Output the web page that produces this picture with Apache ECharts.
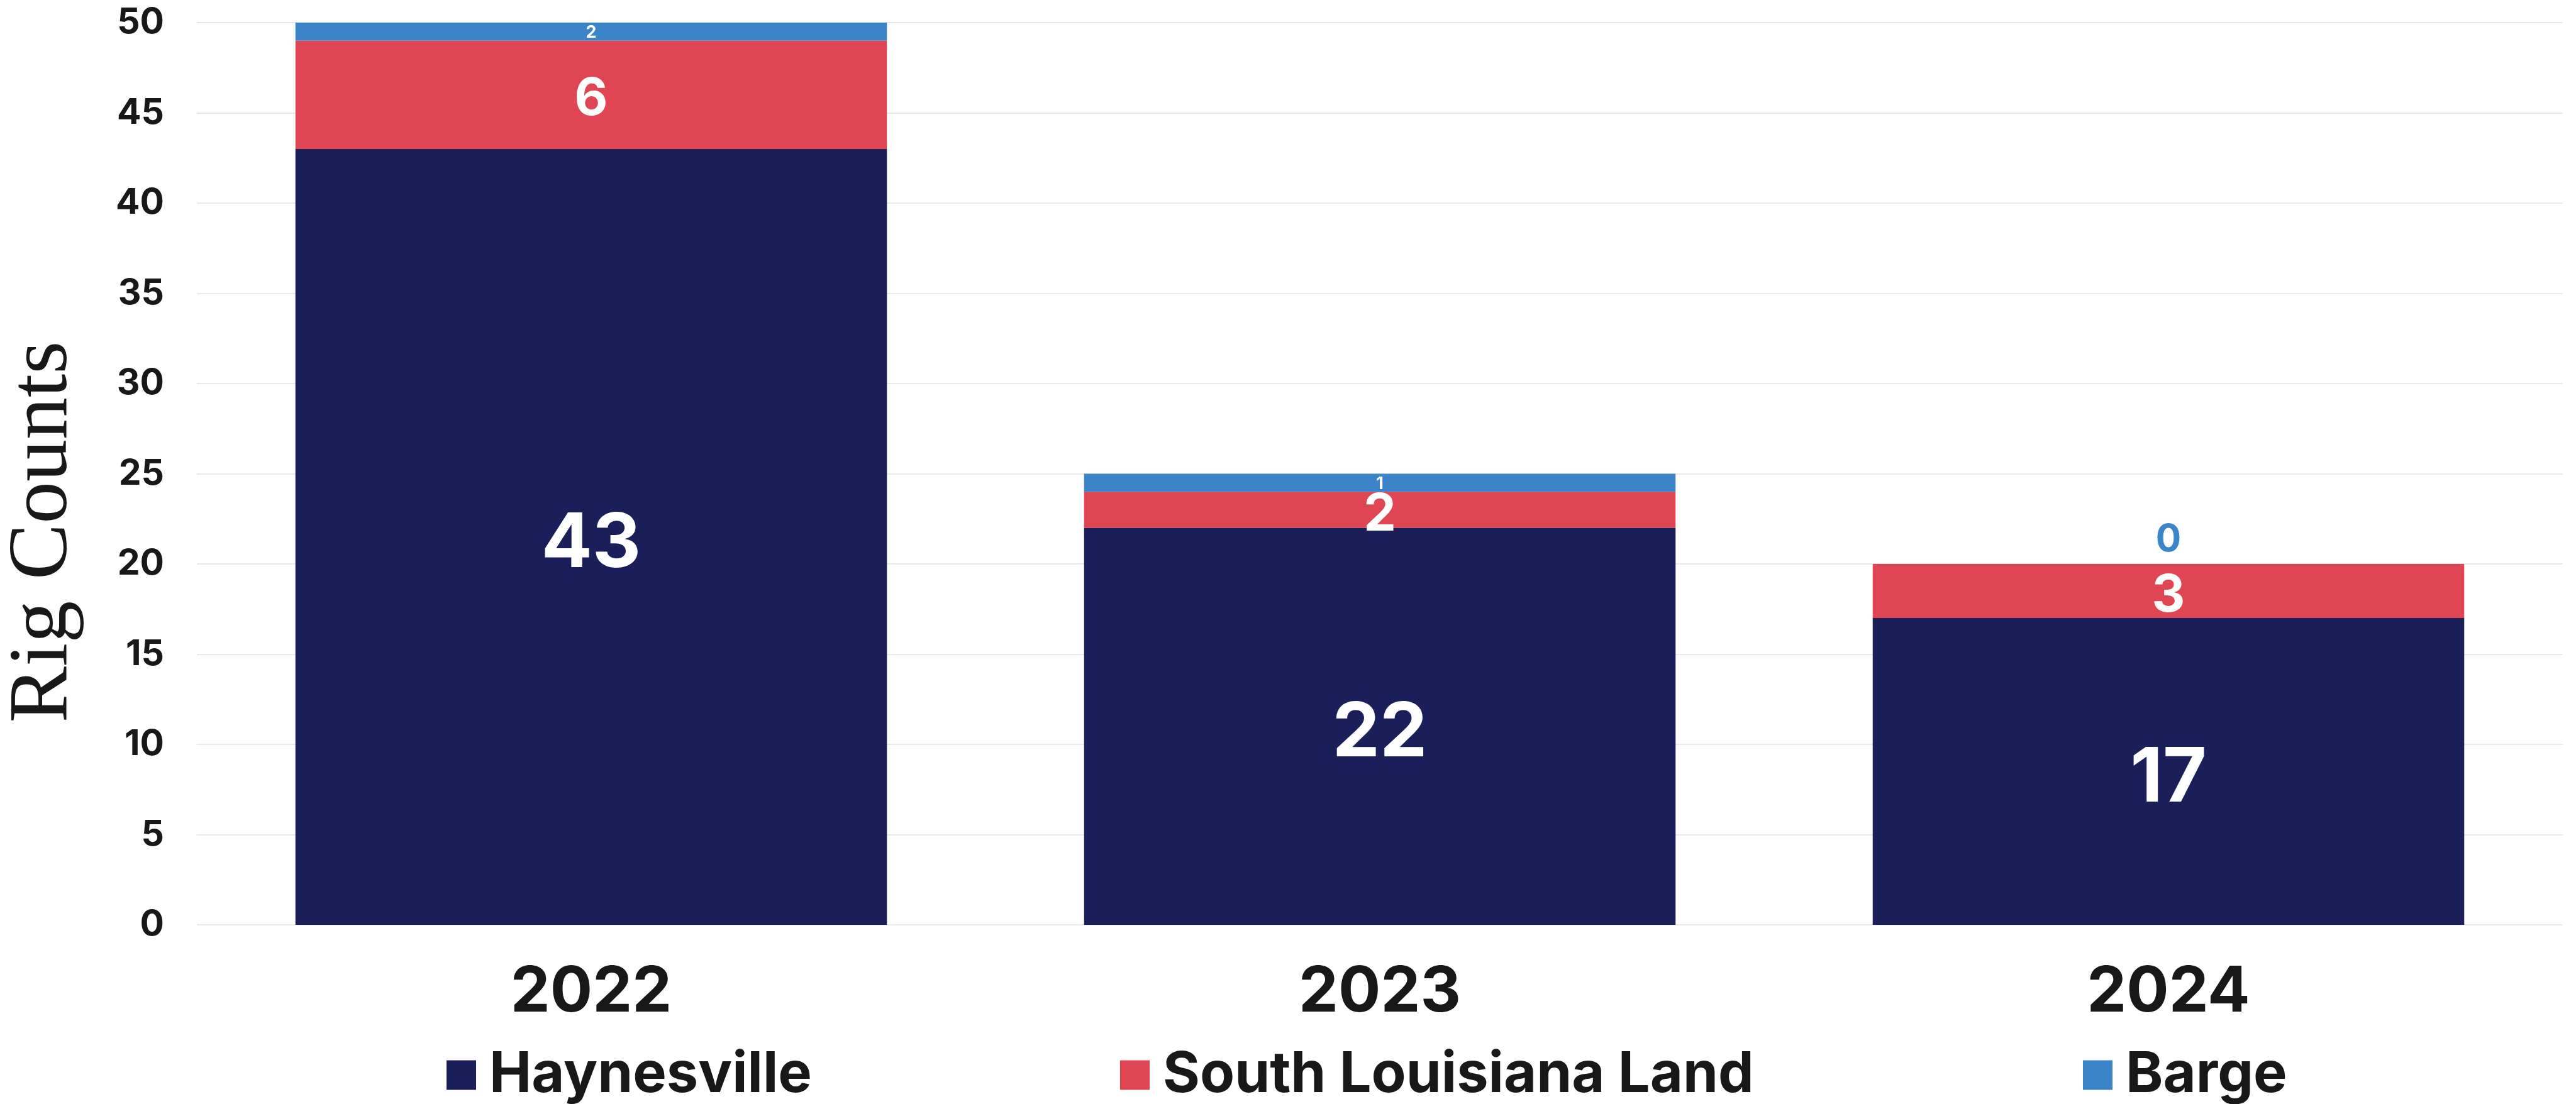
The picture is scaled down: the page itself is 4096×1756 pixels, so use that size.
<!DOCTYPE html>
<html>
<head>
<meta charset="utf-8">
<title>Rig Counts</title>
<script src="https://cdn.jsdelivr.net/npm/echarts@6/dist/echarts.min.js"></script>
<style>
  html, body { margin: 0; padding: 0; background: #ffffff; }
  #chart { width: 4096px; height: 1756px; }
</style>
</head>
<body>
<div id="chart"></div>
<script>
// Rig counts by year and area
const categories = ['2022', '2023', '2024'];
const haynesville = [43, 22, 17];
const southLouisianaLand = [6, 2, 3];
const barge = [2, 1, 0];
const seriesNames = ['Haynesville', 'South Louisiana Land', 'Barge'];
const yMin = 0, yMax = 50, yStep = 5;

const NAVY = '#1b1f59';
const RED = '#e04553';
const BLUE = '#3b84c8';
const INK = '#181818';
const SANS = 'Inter, "Open Sans", sans-serif';

const chart = echarts.init(document.getElementById('chart'), null, { renderer: 'canvas' });

function labelStyle(size, dy) {
  return {
    show: true,
    position: 'inside',
    offset: [0, dy],
    color: '#ffffff',
    fontFamily: SANS,
    fontWeight: 'bold',
    fontSize: size
  };
}

// A zero-height segment gets its label above the stack, in the series colour
function bargeData() {
  return barge.map(function (v) {
    if (v === 0) {
      return {
        value: v,
        label: { position: 'top', distance: 8, offset: [0, 0], color: BLUE, fontSize: 60 }
      };
    }
    return v;
  });
}

function legendAt(left, name) {
  return {
    data: [name],
    left: left,
    top: 1660,
    icon: 'rect',
    itemWidth: 47,
    itemHeight: 47,
    selectedMode: false,
    textStyle: {
      color: INK,
      fontFamily: SANS,
      fontWeight: 'bold',
      fontSize: 90,
      padding: [0, 0, 0, 16]
    }
  };
}

const option = {
  backgroundColor: '#ffffff',
  animation: false,
  grid: { left: 313, right: 21, top: 36, bottom: 285, containLabel: false },
  legend: [
    legendAt(705, seriesNames[0]),
    legendAt(1776, seriesNames[1]),
    legendAt(3307, seriesNames[2])
  ],
  xAxis: {
    type: 'category',
    data: categories,
    axisLine: { show: false },
    axisTick: { show: false },
    axisLabel: {
      margin: 58,
      color: INK,
      fontFamily: SANS,
      fontWeight: 'bold',
      fontSize: 100
    }
  },
  yAxis: {
    type: 'value',
    min: yMin,
    max: yMax,
    interval: yStep,
    axisLine: { show: false },
    axisTick: { show: false },
    splitLine: { lineStyle: { color: '#e9e9e9', width: 2 } },
    axisLabel: {
      margin: 52,
      color: INK,
      fontFamily: SANS,
      fontWeight: 'bold',
      fontSize: 57
    }
  },
  graphic: [{
    type: 'text',
    x: 70,
    y: 846,
    rotation: Math.PI / 2,
    style: {
      text: 'Rig Counts',
      fill: INK,
      font: '134px "Liberation Serif", "DejaVu Serif", serif',
      align: 'center',
      verticalAlign: 'middle'
    }
  }],
  series: [
    {
      name: seriesNames[0],
      type: 'bar',
      stack: 'rigs',
      barWidth: '75%',
      itemStyle: { color: NAVY },
      label: labelStyle(120, 12),
      data: haynesville
    },
    {
      name: seriesNames[1],
      type: 'bar',
      stack: 'rigs',
      barWidth: '75%',
      itemStyle: { color: RED },
      label: labelStyle(82, 8),
      data: southLouisianaLand
    },
    {
      name: seriesNames[2],
      type: 'bar',
      stack: 'rigs',
      barWidth: '75%',
      itemStyle: { color: BLUE },
      label: labelStyle(27, 2),
      data: bargeData()
    }
  ]
};

chart.setOption(option);
</script>
</body>
</html>
